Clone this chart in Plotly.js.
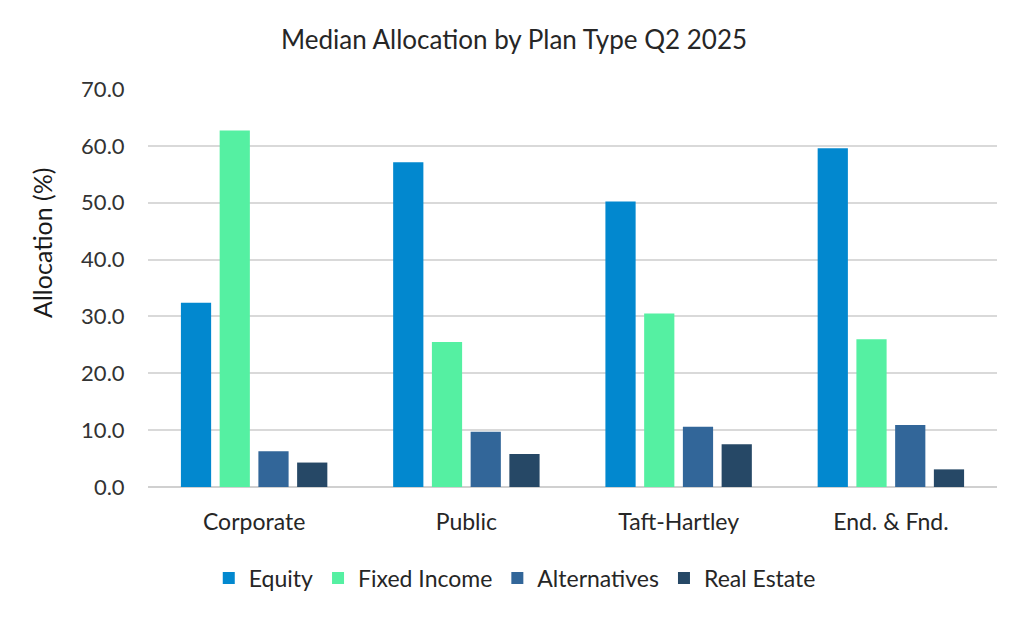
<!DOCTYPE html>
<html>
<head>
<meta charset="utf-8">
<script src="https://cdn.plot.ly/plotly-3.0.1.min.js"></script>
<style>html,body{margin:0;padding:0;background:#fff;}#chart{width:1024px;height:619px;}</style>
</head>
<body>
<div id="chart"></div>
<script>
const categories = ["Corporate", "Public", "Taft-Hartley", "End. & Fnd."];
const seriesNames = ["Equity", "Fixed Income", "Alternatives", "Real Estate"];
const equity = [32.4, 57.1, 50.2, 59.6];
const fixedIncome = [62.7, 25.5, 30.5, 26.0];
const alternatives = [6.3, 9.7, 10.6, 10.9];
const realEstate = [4.3, 5.8, 7.5, 3.1];
const yTicks = [0, 10, 20, 30, 40, 50, 60, 70];
const yAxisTitle = "Allocation (%)";
const colors = ["#0288cf", "#55f0a2", "#326699", "#264866"];

const values = [equity, fixedIncome, alternatives, realEstate];
const traces = values.map((v, i) => ({
  type: "bar",
  name: seriesNames[i],
  x: categories,
  y: v,
  marker: {color: colors[i]},
  hoverinfo: "x+y+name"
}));

const layout = {
  width: 1024,
  height: 619,
  paper_bgcolor: "#ffffff",
  plot_bgcolor: "#ffffff",
  font: {family: "Lato, 'Open Sans', sans-serif", color: "#404040"},
  margin: {l: 148, r: 27, t: 89, b: 132},
  title: {
    text: "Median Allocation by Plan Type Q2 2025",
    font: {size: 26, color: "#262626"},
    x: 0.502, xanchor: "center", xref: "container",
    y: 0.935, yanchor: "middle", yref: "container"
  },
  barmode: "group",
  bargap: 0.27,
  bargroupgap: 0.22,
  xaxis: {
    type: "category",
    showgrid: false,
    showline: false,
    zeroline: false,
    ticks: "outside",
    ticklen: 14,
    tickcolor: "rgba(0,0,0,0)",
    tickfont: {size: 23, color: "#262626"}
  },
  yaxis: {
    range: [0, 70],
    tickvals: yTicks,
    tickformat: ".1f",
    showgrid: true,
    gridcolor: "#d9d9d9",
    gridwidth: 2,
    zeroline: true,
    zerolinecolor: "#d0d0d0",
    zerolinewidth: 2,
    showline: false,
    ticks: "outside",
    ticklen: 18,
    tickcolor: "rgba(0,0,0,0)",
    tickfont: {size: 22, color: "#333333"}
  },
  annotations: [{
    text: yAxisTitle,
    xref: "paper", yref: "paper",
    x: -0.125, y: 0.613,
    xanchor: "center", yanchor: "middle",
    textangle: -90,
    showarrow: false,
    font: {size: 25, color: "#1a1a1a"}
  }],
  legend: {
    orientation: "h",
    x: 0.432, xanchor: "center",
    y: -0.229, yanchor: "middle",
    font: {size: 23, color: "#262626"},
    itemwidth: 30,
    traceorder: "normal"
  },
  showlegend: true
};

Plotly.newPlot("chart", traces, layout, {displayModeBar: false, staticPlot: true});
</script>
</body>
</html>
